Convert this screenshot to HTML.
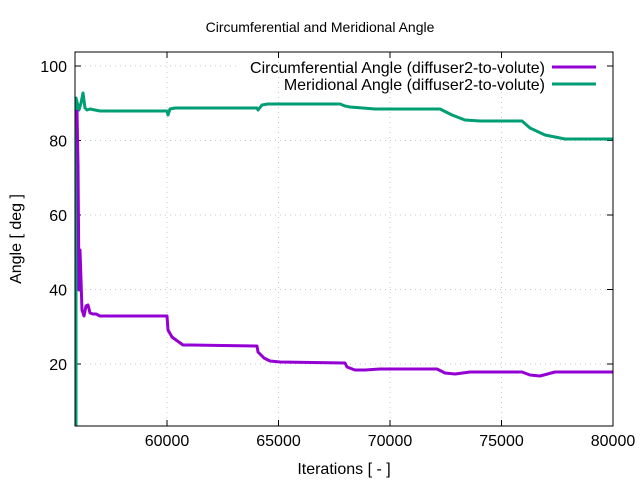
<!DOCTYPE html>
<html><head><meta charset="utf-8"><style>
body{margin:0;background:#fff}
svg{display:block;font-family:"Liberation Sans",sans-serif}
</style></head><body>
<svg width="640" height="480" viewBox="0 0 640 480" xmlns="http://www.w3.org/2000/svg">
<rect width="640" height="480" fill="#fff"/>
<g stroke="#c8c8c8" stroke-width="1" stroke-dasharray="1,4">
<line x1="167" y1="52" x2="167" y2="426"/><line x1="278.5" y1="52" x2="278.5" y2="426"/>
<line x1="390" y1="52" x2="390" y2="426"/><line x1="501.5" y1="52" x2="501.5" y2="426"/>
<line x1="75" y1="364" x2="613" y2="364"/><line x1="75" y1="289.5" x2="613" y2="289.5"/>
<line x1="75" y1="215" x2="613" y2="215"/><line x1="75" y1="140.5" x2="613" y2="140.5"/>
<line x1="75" y1="66" x2="240" y2="66"/>
</g>
<g stroke="#000" stroke-width="1">
<line x1="75" y1="364" x2="81" y2="364"/><line x1="75" y1="289.5" x2="81" y2="289.5"/><line x1="75" y1="215" x2="81" y2="215"/><line x1="75" y1="140.5" x2="81" y2="140.5"/><line x1="75" y1="66" x2="81" y2="66"/>
<line x1="607" y1="364" x2="613" y2="364"/><line x1="607" y1="289.5" x2="613" y2="289.5"/><line x1="607" y1="215" x2="613" y2="215"/><line x1="607" y1="140.5" x2="613" y2="140.5"/><line x1="607" y1="66" x2="613" y2="66"/>
<line x1="167" y1="426" x2="167" y2="420"/><line x1="278.5" y1="426" x2="278.5" y2="420"/><line x1="390" y1="426" x2="390" y2="420"/><line x1="501.5" y1="426" x2="501.5" y2="420"/>
<line x1="167" y1="52" x2="167" y2="58"/><line x1="278.5" y1="52" x2="278.5" y2="58"/><line x1="390" y1="52" x2="390" y2="58"/><line x1="501.5" y1="52" x2="501.5" y2="58"/>
</g>
<g font-size="16" fill="#000">
<g text-anchor="end"><text x="67" y="370">20</text><text x="67" y="295.5">40</text><text x="67" y="221">60</text><text x="67" y="146.5">80</text><text x="67" y="72">100</text></g>
<g text-anchor="middle"><text x="167" y="446">60000</text><text x="278.5" y="446">65000</text><text x="390" y="446">70000</text><text x="501.5" y="446">75000</text><text x="613" y="446">80000</text>
<text x="344" y="474">Iterations [ - ]</text>
<text x="320" y="32" font-size="14">Circumferential and Meridional Angle</text>
<text transform="translate(21,239) rotate(-90)">Angle [ deg ]</text></g>
<g text-anchor="end"><text x="545" y="73">Circumferential Angle (diffuser2-to-volute)</text><text x="545" y="90">Meridional Angle (diffuser2-to-volute)</text></g>
</g>
<line x1="552" y1="67" x2="596" y2="67" stroke="#9400d3" stroke-width="3"/>
<line x1="552" y1="84" x2="596" y2="84" stroke="#009e73" stroke-width="3"/>
<polyline fill="none" stroke="#009e73" stroke-width="3" stroke-linejoin="round" points="76,426 76,98 79,110 81,103 83,93 85,108 87,110 90,109 95,110 100,111 167,111 168,115 170,109 175,108 185,108 200,108 257,108 258,110 262,105 268,104 340,104 345,106 350,107 375,109 440,109 452,115 465,120 480,121 522,121 530,128 545,135 565,139 613,139"/>
<polyline fill="none" stroke="#9400d3" stroke-width="3" stroke-linejoin="round" points="77,110 78,165 79,290 80,250 82,310 84,316 86,306 88,305 90,313 93,314 96,314 100,316 167,316 168,330 172,337 176,340 183,345 190,345 257,346 258,352 264,358 270,361 280,362 345,363 347,367 355,370 365,370 380,369 437,369 445,373 455,374 470,372 522,372 530,375 540,376 555,372 613,372"/>
<rect x="75" y="52" width="538" height="374" fill="none" stroke="#000" stroke-width="1"/>
</svg>
</body></html>
